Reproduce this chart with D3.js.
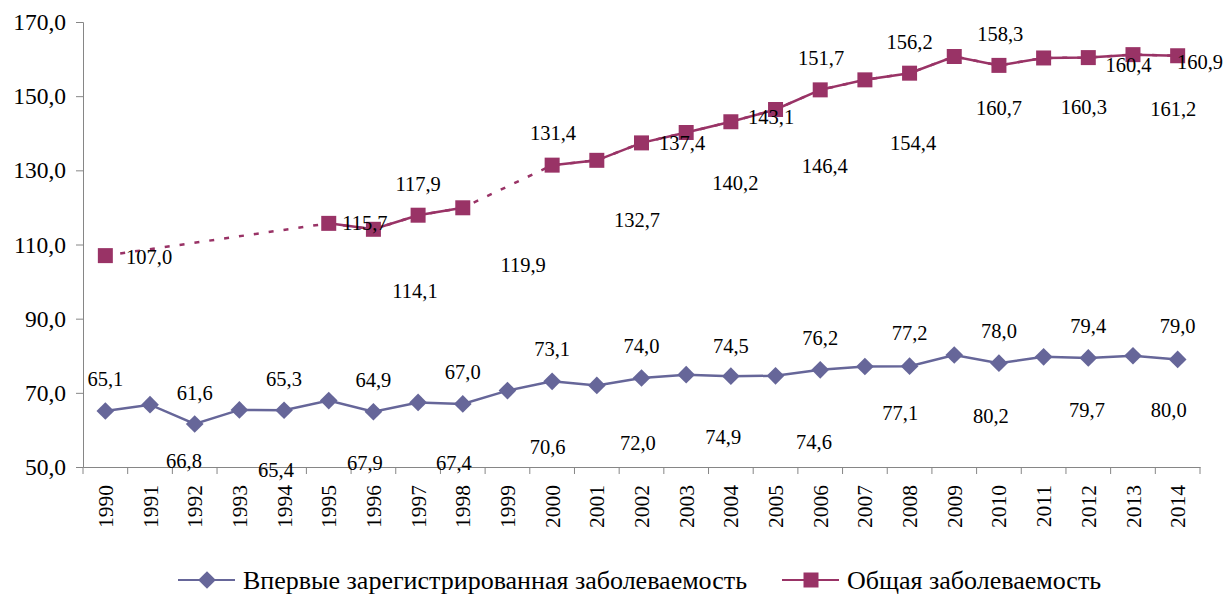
<!DOCTYPE html>
<html>
<head>
<meta charset="utf-8">
<script src="https://cdn.jsdelivr.net/npm/d3@7"></script>
<style>
  body { margin: 0; background: #fff; }
  text { font-family: "Liberation Serif", "Times New Roman", serif; fill: #000; }
</style>
</head>
<body>
<svg id="chart"></svg>
<script>
// Years on the category axis
const years = ["1990", "1991", "1992", "1993", "1994", "1995", "1996", "1997", "1998", "1999",
  "2000", "2001", "2002", "2003", "2004", "2005", "2006", "2007", "2008", "2009",
  "2010", "2011", "2012", "2013", "2014"];

// Впервые зарегистрированная заболеваемость
const firstTime = [65.1, 66.8, 61.6, 65.4, 65.3, 67.9, 64.9, 67.4, 67.0, 70.6,
  73.1, 72.0, 74.0, 74.9, 74.5, 74.6, 76.2, 77.1, 77.2, 80.2,
  78.0, 79.7, 79.4, 80.0, 79.0];

// Общая заболеваемость (no data for 1991-1994 and 1999)
const total = [107.0, null, null, null, null, 115.7, 114.1, 117.9, 119.9, null,
  131.4, 132.7, 137.4, 140.2, 143.1, 146.4, 151.7, 154.4, 156.2, 160.7,
  158.3, 160.3, 160.4, 161.2, 160.9];

const yTicks = [50, 70, 90, 110, 130, 150, 170];
const seriesNames = ["Впервые зарегистрированная заболеваемость", "Общая заболеваемость"];

// where each data label sits, as [category index, axis value] (labels are scattered like in the original)
const firstLabelPos = [[0, 73.8], [1.76, 51.7], [2, 70.0], [3.82, 49.3], [4, 73.8], [5.81, 51.2],
  [6, 73.5], [7.8, 51.2], [8, 75.7], [9.9, 55.5], [10, 81.9], [11.92, 56.6], [12, 82.7],
  [13.83, 58.2], [14, 82.7], [15.86, 56.8], [16, 84.9], [17.79, 64.6], [18, 86.2],
  [19.82, 63.8], [20, 86.8], [21.97, 65.4], [22, 88.1], [23.8, 65.4], [24, 88.1]];
const totalLabelPos = [[0.98, 106.7], null, null, null, null, [5.81, 115.9], [6.93, 97.5],
  [7.0, 126.4], [9.35, 104.6], null, [10.02, 140.1], [11.9, 116.7], [12.91, 137.4],
  [14.1, 126.6], [14.9, 144.5], [16.1, 131.3], [16.02, 160.4], [18.08, 137.5], [18.0, 164.7],
  [20.0, 146.9], [20.03, 166.8], [21.9, 147.1], [22.9, 158.5], [23.9, 146.6], [24.5, 159.3]];

const W = 1225, H = 596;
const margin = { top: 22, right: 25, bottom: 129, left: 83 };
const blue = "#666699", purple = "#993366", axisGrey = "#868686";
const fmt = v => v.toFixed(1).replace(".", ",");

const svg = d3.select("#chart").attr("width", W).attr("height", H);

const x = d3.scaleBand().domain(years).range([margin.left, W - margin.right]);
const xi = d3.scaleLinear().domain([-0.5, years.length - 0.5]).range([margin.left, W - margin.right]);
const y = d3.scaleLinear().domain([50, 170]).range([H - margin.bottom, margin.top]);

// Y axis
const yAxis = svg.append("g")
  .attr("transform", `translate(${margin.left},0)`)
  .call(d3.axisLeft(y).tickValues(yTicks).tickFormat(fmt).tickSize(7).tickPadding(10));
yAxis.select(".domain").attr("stroke", axisGrey);
yAxis.selectAll(".tick line").attr("stroke", axisGrey);
yAxis.selectAll(".tick text").attr("font-size", 23.5).attr("font-family", "Liberation Serif");

// X axis: labels under categories, tick marks on category borders
const xAxis = svg.append("g")
  .attr("transform", `translate(0,${H - margin.bottom})`)
  .call(d3.axisBottom(x).tickSize(0).tickPadding(0));
xAxis.select(".domain").attr("stroke", axisGrey);
xAxis.selectAll(".tick text")
  .attr("font-size", 21.5).attr("font-family", "Liberation Serif")
  .attr("text-anchor", "end")
  .attr("dy", "0.35em")
  .attr("transform", "translate(0,18) rotate(-90)");
xAxis.selectAll("line.border")
  .data(d3.range(years.length + 1))
  .join("line")
  .attr("class", "border")
  .attr("x1", d => xi(d - 0.5)).attr("x2", d => xi(d - 0.5))
  .attr("y1", 0).attr("y2", 7)
  .attr("stroke", axisGrey);

const pts1 = firstTime.map((v, i) => ({ i, v }));
const pts2 = total.map((v, i) => ({ i, v }));
const line = d3.line().x(d => xi(d.i)).y(d => y(d.v)).defined(d => d.v != null);

// dotted connection over missing years, solid where data is consecutive
svg.append("path")
  .datum(pts2.filter(d => d.v != null))
  .attr("d", line)
  .attr("fill", "none").attr("stroke", purple)
  .attr("stroke-width", 2.5).attr("stroke-dasharray", "5,10");
svg.append("path")
  .datum(pts2)
  .attr("d", line)
  .attr("fill", "none").attr("stroke", purple).attr("stroke-width", 2.5);
svg.append("path")
  .datum(pts1)
  .attr("d", line)
  .attr("fill", "none").attr("stroke", blue).attr("stroke-width", 2.5);

const diamond = d3.symbol().type(d3.symbolDiamond2).size(200);
const square = d3.symbol().type(d3.symbolSquare).size(225);

svg.selectAll("path.m1")
  .data(pts1)
  .join("path")
  .attr("class", "m1")
  .attr("d", diamond)
  .attr("transform", d => `translate(${xi(d.i)},${y(d.v)})`)
  .attr("fill", blue);
svg.selectAll("path.m2")
  .data(pts2.filter(d => d.v != null))
  .join("path")
  .attr("class", "m2")
  .attr("d", square)
  .attr("transform", d => `translate(${xi(d.i)},${y(d.v)})`)
  .attr("fill", purple);

// data labels
function labels(values, pos, cls) {
  svg.selectAll("text." + cls)
    .data(values.map((v, i) => ({ v, p: pos[i] })).filter(d => d.v != null))
    .join("text")
    .attr("class", cls)
    .attr("x", d => xi(d.p[0]))
    .attr("y", d => y(d.p[1]))
    .attr("text-anchor", "middle")
    .attr("dominant-baseline", "central")
    .attr("font-size", 20.5)
    .text(d => fmt(d.v));
}
labels(firstTime, firstLabelPos, "l1");
labels(total, totalLabelPos, "l2");

// legend
const legendY = 580;
const legend = [
  { name: seriesNames[0], color: blue, sym: diamond, x0: 178 },
  { name: seriesNames[1], color: purple, sym: square, x0: 782 }
];
const lg = svg.selectAll("g.legend")
  .data(legend)
  .join("g")
  .attr("class", "legend")
  .attr("transform", d => `translate(${d.x0},${legendY})`);
lg.append("line")
  .attr("x1", 0).attr("x2", 57)
  .attr("stroke", d => d.color).attr("stroke-width", 2.2);
lg.append("path")
  .attr("d", d => d.sym())
  .attr("transform", "translate(29,0)")
  .attr("fill", d => d.color);
lg.append("text")
  .attr("x", 65)
  .attr("dominant-baseline", "central")
  .attr("font-size", 26)
  .text(d => d.name);
</script>
</body>
</html>
